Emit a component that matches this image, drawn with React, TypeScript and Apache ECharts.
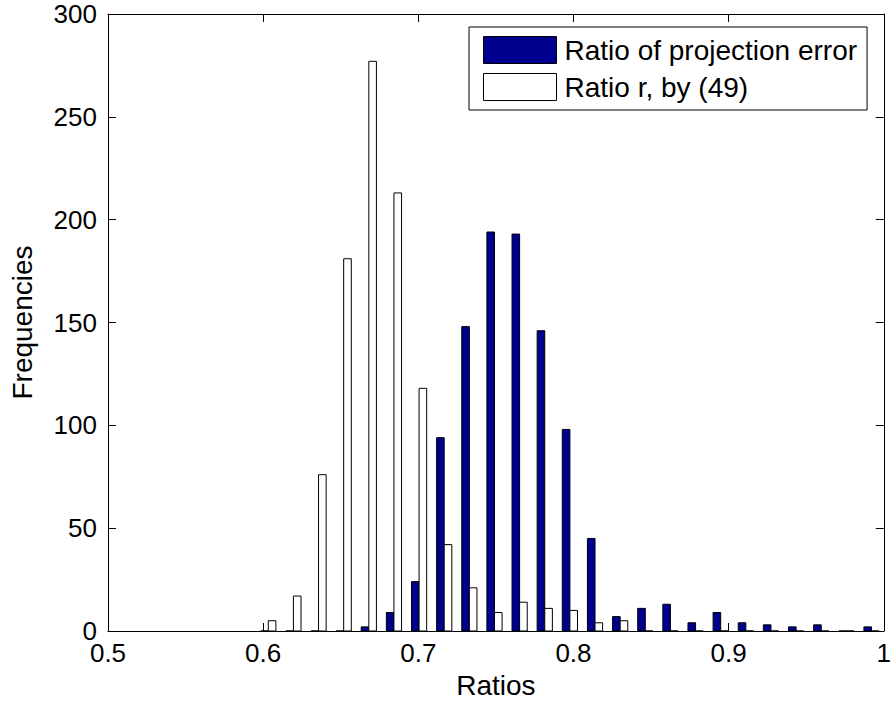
import React, { useEffect, useRef } from "react";
import * as echarts from "echarts";

// Bin centres (ratio values)
const binCenters = [
  0.6033, 0.6195, 0.6357, 0.6519, 0.6681, 0.6843, 0.7005, 0.7167, 0.7329,
  0.7491, 0.7653, 0.7815, 0.7977, 0.8139, 0.8301, 0.8463, 0.8625, 0.8787,
  0.8949, 0.9111, 0.9273, 0.9435, 0.9597, 0.9759, 0.9921,
];
// Frequencies: ratio of projection error
const projErrorFreq = [
  0, 0, 0, 0, 2, 9, 24, 94, 148, 194, 193, 146, 98, 45, 7, 11, 13, 4, 9, 4, 3,
  2, 3, 0, 2,
];
// Frequencies: ratio r, by (49)
const ratioRFreq = [
  5, 17, 76, 181, 277, 213, 118, 42, 21, 9, 14, 11, 10, 4, 5, 0, 0, 0, 0, 0, 0,
  0, 0, 0, 0,
];
const xTicks = [0.5, 0.6, 0.7, 0.8, 0.9, 1];
const yTicks = [0, 50, 100, 150, 200, 250, 300];

const seriesNames = ["Ratio of projection error", "Ratio r, by (49)"];
const FONT = "Liberation Sans";
const BLUE = "#00008f";

export default function App() {
  const ref = useRef<HTMLDivElement>(null);
  useEffect(() => {
    if (!ref.current) return;
    const chart = echarts.init(ref.current, undefined, { renderer: "svg" });
    const halfW = 0.0049;
    const makeRender = (side: number, fill: string) => (params: any, api: any) => {
      const x = api.value(0);
      const y = api.value(1);
      const xa = side < 0 ? x - halfW : x;
      const xb = side < 0 ? x : x + halfW;
      const p0 = api.coord([xa, 0]);
      const p1 = api.coord([xb, y]);
      return {
        type: "rect",
        shape: {
          x: p0[0],
          y: p1[1],
          width: p1[0] - p0[0],
          height: p0[1] - p1[1],
        },
        style: { fill, stroke: "#000", lineWidth: 1 },
      };
    };
    const axisCommon = {
      axisLine: { show: true, onZero: false, lineStyle: { color: "#000", width: 1 } },
      axisTick: { show: true, inside: true, length: 8, lineStyle: { color: "#000" } },
      splitLine: { show: false },
    };
    const labelStyle = { color: "#000", fontFamily: FONT, fontSize: 26 };
    chart.setOption({
      animation: false,
      backgroundColor: "#fff",
      grid: { left: 102, top: 14, width: 784, height: 618 },
      legend: {
        left: 469,
        top: 27,
        orient: "vertical",
        itemWidth: 73,
        itemHeight: 27,
        itemGap: 9,
        padding: [9, 10, 9, 14],
        borderColor: "#000",
        borderWidth: 1,
        backgroundColor: "#fff",
        icon: "rect",
        textStyle: { color: "#000", fontFamily: FONT, fontSize: 28, padding: [0, 0, 0, 3] },
        data: [
          { name: seriesNames[0], itemStyle: { color: BLUE, borderColor: "#000", borderWidth: 1 } },
          { name: seriesNames[1], itemStyle: { color: "#fff", borderColor: "#000", borderWidth: 1 } },
        ],
      },
      xAxis: [
        {
          type: "value",
          min: xTicks[0],
          max: xTicks[xTicks.length - 1],
          interval: 0.1,
          position: "bottom",
          name: "Ratios",
          nameLocation: "middle",
          nameGap: 40,
          nameTextStyle: { ...labelStyle, fontSize: 28 },
          axisLabel: { ...labelStyle, margin: 9 },
          ...axisCommon,
        },
        {
          type: "value",
          min: xTicks[0],
          max: xTicks[xTicks.length - 1],
          interval: 0.1,
          position: "top",
          axisLabel: { show: false },
          ...axisCommon,
        },
      ],
      yAxis: [
        {
          type: "value",
          min: yTicks[0],
          max: yTicks[yTicks.length - 1],
          interval: 50,
          position: "left",
          name: "Frequencies",
          nameLocation: "middle",
          nameGap: 72,
          nameTextStyle: { ...labelStyle, fontSize: 28 },
          axisLabel: { ...labelStyle, margin: 11 },
          ...axisCommon,
        },
        {
          type: "value",
          min: yTicks[0],
          max: yTicks[yTicks.length - 1],
          interval: 50,
          position: "right",
          axisLabel: { show: false },
          ...axisCommon,
        },
      ],
      series: [
        {
          name: seriesNames[0],
          type: "custom",
          xAxisIndex: 0,
          yAxisIndex: 0,
          itemStyle: { color: BLUE, borderColor: "#000", borderWidth: 1 },
          renderItem: makeRender(-1, BLUE),
          encode: { x: 0, y: 1 },
          data: binCenters.map((c, i) => [c, projErrorFreq[i]]),
        },
        {
          name: seriesNames[1],
          type: "custom",
          xAxisIndex: 0,
          yAxisIndex: 0,
          itemStyle: { color: "#fff", borderColor: "#000", borderWidth: 1 },
          renderItem: makeRender(1, "#fff"),
          encode: { x: 0, y: 1 },
          data: binCenters.map((c, i) => [c, ratioRFreq[i]]),
        },
      ],
    });
    return () => chart.dispose();
  }, []);
  return (
    <div
      ref={ref}
      style={{ position: "fixed", left: 0, top: 0, width: 894, height: 704, background: "#fff" }}
    />
  );
}
